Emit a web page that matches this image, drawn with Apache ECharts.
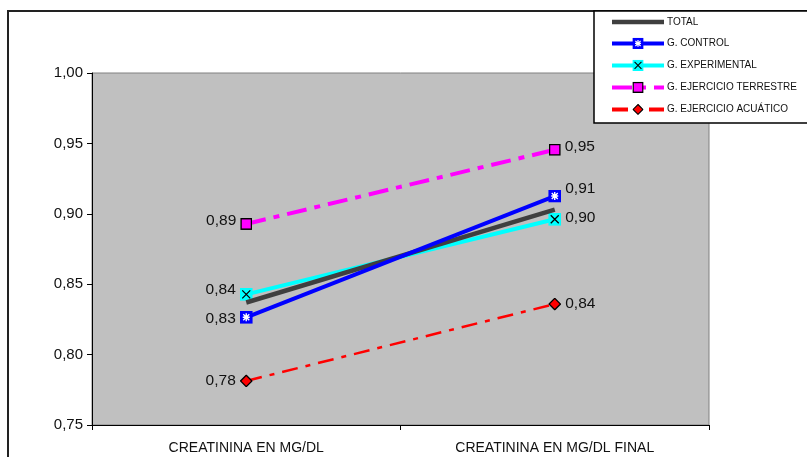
<!DOCTYPE html>
<html><head><meta charset="utf-8">
<script src="https://cdn.jsdelivr.net/npm/echarts@6/dist/echarts.min.js"></script>
<style>html,body{margin:0;padding:0;background:#fff}#c{width:807px;height:457px}</style>
</head><body><div id="c"></div>
<script>
const categories = ['CREATININA EN MG/DL', 'CREATININA EN MG/DL FINAL'];
const seriesNames = ['TOTAL', 'G. CONTROL', 'G. EXPERIMENTAL', 'G. EJERCICIO TERRESTRE', 'G. EJERCICIO ACUÁTICO'];
const total = [0.837, 0.903];
const control = [0.8265, 0.9126];
const experimental = [0.8428, 0.8961];
const terrestre = [0.8928, 0.9455];
const acuatico = [0.7813, 0.8359];
const yTicks = { min: 0.75, max: 1.0, step: 0.05 };

function svgUri(s){ return 'image://data:image/svg+xml;charset=utf-8,' + encodeURIComponent(s); }
const symBlue = svgUri("<svg xmlns='http://www.w3.org/2000/svg' width='13' height='13'><rect x='0' y='0' width='13' height='13' fill='#0000FF'/><path d='M3.5 3.5L9.5 9.5M9.5 3.5L3.5 9.5M6.5 2.5V10.5M3 6.5H10' stroke='#ffffff' stroke-width='1.4' fill='none'/></svg>");
const symCyan = svgUri("<svg xmlns='http://www.w3.org/2000/svg' width='13' height='13'><rect x='0' y='0' width='13' height='13' fill='#00FFFF'/><path d='M2.5 2.5L10.5 10.5M10.5 2.5L2.5 10.5' stroke='#000000' stroke-width='1.3' fill='none'/></svg>");
const symMag = svgUri("<svg xmlns='http://www.w3.org/2000/svg' width='12' height='12'><rect x='0.75' y='0.75' width='10.5' height='10.5' fill='#FF00FF' stroke='#000000' stroke-width='1.5'/></svg>");
const symRed = svgUri("<svg xmlns='http://www.w3.org/2000/svg' width='13' height='13'><path d='M6.5 0.8L12.2 6.5L6.5 12.2L0.8 6.5Z' fill='#FF0000' stroke='#000000' stroke-width='1.3'/></svg>");
const legendLineIcon = 'path://M0,0H52V4.5H0Z';

function fmt(v){ return v.toFixed(2).replace('.', ','); }
function pts(arr, offsets){
  return arr.map((v, i) => ({
    value: v,
    label: { position: i === 0 ? 'left' : 'right', offset: offsets ? offsets[i] : [0, 0] }
  }));
}
const lbl = { show: true, fontFamily: 'Liberation Sans, Arial', fontSize: 15.5, color: '#111', distance: 4, formatter: p => fmt(p.value) };

const chart = echarts.init(document.getElementById('c'), null, { renderer: 'canvas' });
chart.setOption({
  animation: false,
  textStyle: { fontFamily: 'Liberation Sans, Arial' },
  graphic: [{ type: 'rect', z: -1, shape: { x: 8, y: 11, width: 900, height: 500 }, style: { fill: 'none', stroke: '#222', lineWidth: 2 } }],
  grid: { left: 92, top: 73, right: 98, bottom: 32, show: true, backgroundColor: '#C0C0C0', borderColor: '#808080', borderWidth: 1 },
  legend: {
    orient: 'vertical', left: 594, top: 11,
    data: seriesNames.map((n, i) => i === 0 ? { name: n, icon: legendLineIcon } : { name: n }),
    backgroundColor: '#fff', borderColor: '#000', borderWidth: 1.5, borderRadius: 0,
    padding: [6, 80, 8, 16], itemWidth: 52, itemHeight: 14, itemGap: 10.8,
    symbolKeepAspect: true,
    textStyle: { fontSize: 10, color: '#111', fontFamily: 'Liberation Sans, Arial', padding: [0, 0, 0, -2] },
    lineStyle: { width: 4 }
  },
  xAxis: {
    type: 'category', data: categories, boundaryGap: true,
    axisLine: { lineStyle: { color: '#000', width: 1 } },
    axisTick: { show: true, alignWithLabel: false, length: 5, lineStyle: { color: '#000' } },
    axisLabel: { fontSize: 14, color: '#111', margin: 16 }
  },
  yAxis: {
    type: 'value', min: yTicks.min, max: yTicks.max, interval: yTicks.step,
    axisLine: { show: true, lineStyle: { color: '#000', width: 1 } },
    axisTick: { show: true, length: 5, lineStyle: { color: '#000' } },
    splitLine: { show: false },
    axisLabel: { fontSize: 15, color: '#111', margin: 9, formatter: v => fmt(v) }
  },
  series: [
    { name: seriesNames[0], type: 'line', data: total, symbol: 'none', lineStyle: { color: '#3f3f3f', width: 4.5 }, itemStyle: { color: '#3f3f3f' }, z: 2 },
    { name: seriesNames[1], type: 'line', data: pts(control, [[0, 1], [0, -7]]), symbol: symBlue, symbolSize: 13, lineStyle: { color: '#0000FF', width: 4 }, itemStyle: { color: '#0000FF' }, label: lbl, z: 3 },
    { name: seriesNames[2], type: 'line', data: pts(experimental, [[0, -5], [0, -2]]), symbol: symCyan, symbolSize: 13, lineStyle: { color: '#00FFFF', width: 4 }, itemStyle: { color: '#00FFFF' }, label: lbl, z: 1 },
    { name: seriesNames[3], type: 'line', data: pts(terrestre, [[0, -3], [0, -3]]), symbol: symMag, symbolSize: 12, lineStyle: { color: '#FF00FF', width: 4, type: [20, 8, 6, 8] }, itemStyle: { color: '#FF00FF' }, label: lbl, z: 3 },
    { name: seriesNames[4], type: 'line', data: pts(acuatico, [[0, 0], [0, 0]]), symbol: symRed, symbolSize: 13, lineStyle: { color: '#FF0000', width: 2.5, type: [16, 8, 5, 8] }, itemStyle: { color: '#FF0000' }, label: lbl, z: 3 }
  ]
});
</script></body></html>
